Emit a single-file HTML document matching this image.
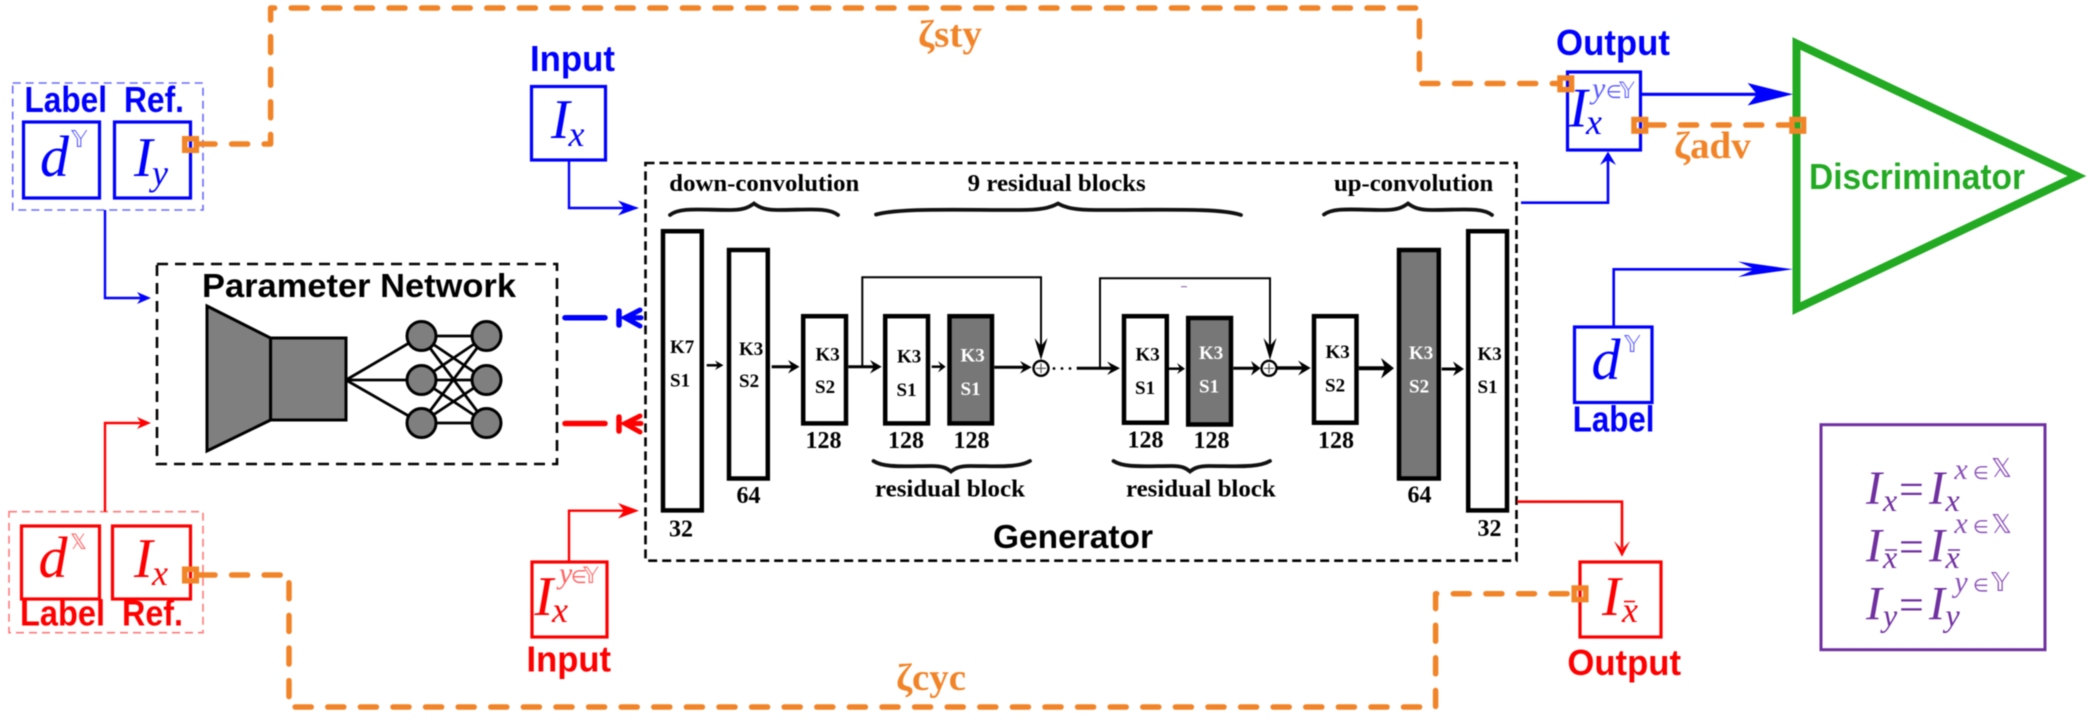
<!DOCTYPE html>
<html><head><meta charset="utf-8"><style>
html,body{margin:0;padding:0;background:#fff}
svg{display:block;filter:blur(0.4px)}
.sans{font-family:"Liberation Sans",sans-serif;font-weight:bold}
.ser{font-family:"Liberation Serif",serif;font-weight:bold}
.it{font-family:"Liberation Serif","DejaVu Sans",serif;font-style:italic}
.bb{font-family:"DejaVu Sans",sans-serif}
.m{font-family:"Liberation Serif","DejaVu Sans",serif}
.k{font-family:"Liberation Serif",serif;font-weight:bold;font-size:19px}
.n{font-family:"Liberation Serif",serif;font-weight:bold;font-size:24px}
.h{font-family:"Liberation Serif",serif;font-weight:bold;font-size:24px}
.brace{fill:none;stroke:#111;stroke-width:3.8;stroke-linecap:round}
.bar{stroke:#000;stroke-width:4.5;fill:#fff}
.gbar{stroke:#000;stroke-width:4.5;fill:#777}
.orange{fill:none;stroke:#F28428;stroke-width:5.5;stroke-linecap:round;stroke-linejoin:round;stroke-dasharray:16 16.6}
.sq{fill:none;stroke:#F28428;stroke-width:5.5}
.ar{stroke:#000;stroke-width:2.5;fill:none}
</style></head><body>
<svg width="2100" height="725" viewBox="0 0 2100 725" xmlns="http://www.w3.org/2000/svg">

<!-- blue group -->
<rect x="12.7" y="83" width="190.3" height="127" fill="none" stroke="#6a6aff" stroke-width="1.6" stroke-dasharray="8 5"/>
<text class="sans" x="24.5" y="112" font-size="36" fill="#0000ff" textLength="82.5" lengthAdjust="spacingAndGlyphs">Label</text>
<text class="sans" x="124" y="112" font-size="36" fill="#0000ff" textLength="60" lengthAdjust="spacingAndGlyphs">Ref.</text>
<rect x="23.5" y="122" width="76" height="76" fill="none" stroke="#0000ff" stroke-width="3.2"/>
<rect x="114.5" y="122" width="76" height="76" fill="none" stroke="#0000ff" stroke-width="3.2"/>
<text class="it" x="40" y="176" font-size="58" fill="#0000ff">d</text>
<text class="bb" x="71" y="147" font-size="23" fill="#5a5aff">𝕐</text>
<text class="it" x="134" y="176" font-size="56" fill="#0000ff">I</text>
<text class="it" x="152" y="185" font-size="36" fill="#0000ff">y</text>

<!-- blue input -->
<text class="sans" x="530" y="71" font-size="36" fill="#0000ff" textLength="85" lengthAdjust="spacingAndGlyphs">Input</text>
<rect x="531.5" y="86.5" width="74" height="73.5" fill="none" stroke="#0000ff" stroke-width="3.2"/>
<text class="it" x="551" y="138" font-size="56" fill="#0000ff">I</text>
<text class="it" x="568.5" y="146" font-size="36" fill="#0000ff">x</text>
<path d="M569 160V208H632" fill="none" stroke="#0000ff" stroke-width="2.4"/>
<polygon points="639,208 618,200.5 624,208 618,215.5" fill="#0000ff"/>
<path d="M105 210V298H145" fill="none" stroke="#0000ff" stroke-width="2.4"/>
<polygon points="151,298 137,292 141,298 137,304" fill="#0000ff"/>

<!-- parameter network -->
<rect x="157" y="264" width="400" height="200" fill="none" stroke="#000" stroke-width="2.6" stroke-dasharray="11 7"/>
<text class="sans" x="202" y="297" font-size="33" fill="#000" textLength="314" lengthAdjust="spacingAndGlyphs">Parameter Network</text>
<g stroke="#000" stroke-width="2.8" fill="none">
<path d="M346 380L421 336M346 380L421 380M346 380L421 423"/>
<path d="M421 336L486 336M421 336L486 380M421 336L486 423M421 380L486 336M421 380L486 380M421 380L486 423M421 423L486 336M421 423L486 380M421 423L486 423"/>
</g>
<polygon points="207,306 270.6,338 270.6,420 207,451" fill="#7f7f7f" stroke="#000" stroke-width="3"/>
<rect x="270.6" y="338" width="75.4" height="82" fill="#7f7f7f" stroke="#000" stroke-width="3"/>
<g fill="#7f7f7f" stroke="#000" stroke-width="3">
<circle cx="421.5" cy="336" r="14.5"/><circle cx="421.5" cy="380" r="14.5"/><circle cx="421.5" cy="423" r="14.5"/>
<circle cx="486.5" cy="336" r="14.5"/><circle cx="486.5" cy="380" r="14.5"/><circle cx="486.5" cy="423" r="14.5"/>
</g>

<!-- short feedback markers -->
<path d="M565 317.7H605" stroke="#0000ff" stroke-width="5.5" stroke-linecap="round"/>
<path d="M619 311V325" stroke="#0000ff" stroke-width="5.5" stroke-linecap="round"/>
<path d="M640 310L625 317.7L640 326M633 317.7H641" fill="none" stroke="#0000ff" stroke-width="5" stroke-linecap="round"/>
<path d="M565 423.5H605" stroke="#ff0000" stroke-width="5.5" stroke-linecap="round"/>
<path d="M619 417V431" stroke="#ff0000" stroke-width="5.5" stroke-linecap="round"/>
<path d="M640 416L625 423.5L640 432M633 423.5H641" fill="none" stroke="#ff0000" stroke-width="5" stroke-linecap="round"/>

<!-- red group -->
<rect x="9" y="511.7" width="194" height="121" fill="none" stroke="#ff7a7a" stroke-width="1.6" stroke-dasharray="8 5"/>
<rect x="21.5" y="526" width="78" height="73" fill="none" stroke="#ff0000" stroke-width="3.2"/>
<rect x="112.5" y="526" width="78" height="73" fill="none" stroke="#ff0000" stroke-width="3.2"/>
<text class="it" x="38.5" y="577" font-size="58" fill="#ff0000">d</text>
<text class="bb" x="70" y="549" font-size="21" fill="#ff6060">𝕏</text>
<text class="it" x="134" y="577" font-size="56" fill="#ff0000">I</text>
<text class="it" x="152" y="585" font-size="36" fill="#ff0000">x</text>
<text class="sans" x="20" y="625.7" font-size="36" fill="#ff0000" textLength="85" lengthAdjust="spacingAndGlyphs">Label</text>
<text class="sans" x="122" y="625.7" font-size="36" fill="#ff0000" textLength="61" lengthAdjust="spacingAndGlyphs">Ref.</text>
<path d="M105 511.7V423H145" fill="none" stroke="#ff0000" stroke-width="2.4"/>
<polygon points="151,423 137,417 141,423 137,429" fill="#ff0000"/>

<!-- red input -->
<rect x="532" y="562" width="75" height="75" fill="none" stroke="#ff0000" stroke-width="3.2"/>
<text class="it" x="534.5" y="615" font-size="56" fill="#ff0000">I</text>
<text class="it" x="552" y="622" font-size="36" fill="#ff0000">x</text>
<text class="it" x="559" y="583" font-size="30" fill="#ff6060">y</text>
<text class="m" x="571" y="583" font-size="18" fill="#ff6060">∈</text>
<text class="bb" x="583" y="583" font-size="22" fill="#ff6060">𝕐</text>
<text class="sans" x="526.5" y="671.7" font-size="36" fill="#ff0000" textLength="84.5" lengthAdjust="spacingAndGlyphs">Input</text>
<path d="M569 561V510.7H632" fill="none" stroke="#ff0000" stroke-width="2.4"/>
<polygon points="639,510.7 618,503 624,510.7 618,518.5" fill="#ff0000"/>

<!-- generator -->
<rect x="645.5" y="163" width="871" height="397.7" fill="none" stroke="#000" stroke-width="2.6" stroke-dasharray="9 5"/>
<text class="h" x="669.3" y="191" textLength="190" lengthAdjust="spacingAndGlyphs">down-convolution</text>
<text class="h" x="967.7" y="191" textLength="178" lengthAdjust="spacingAndGlyphs">9 residual blocks</text>
<text class="h" x="1334" y="191" textLength="159.3" lengthAdjust="spacingAndGlyphs">up-convolution</text>
<text class="h" x="875" y="496.7" textLength="150" lengthAdjust="spacingAndGlyphs">residual block</text>
<text class="h" x="1126" y="496.7" textLength="149.7" lengthAdjust="spacingAndGlyphs">residual block</text>

<path class="brace" d="M670 215C680 207 700 210 730 210C742 210 748 208 754 203.5C760 208 766 210 778 210C808 210 828 207 838 215"/>
<path class="brace" d="M876 214.5C900 208 950 210 1020 210C1040 210 1050 208 1058 203.5C1066 208 1076 210 1096 210C1170 210 1220 208 1241 215"/>
<path class="brace" d="M1324 214.5C1334 207 1354 210 1384 210C1396 210 1402 208 1408 203.5C1414 208 1420 210 1432 210C1462 210 1482 207 1492 215"/>
<path class="brace" d="M873.5 461C884 468 905 466 932 466C942 466 947 468 951 471.5C955 468 960 466 970 466C997 466 1018 468 1030 461"/>
<path class="brace" d="M1113.5 461C1124 468 1145 466 1172 466C1182 466 1186 468 1190 471.5C1194 468 1199 466 1209 466C1236 466 1258 468 1270 461"/>

<rect class="bar" x="663" y="231.2" width="38.8" height="279.2"/>
<rect class="bar" x="729" y="250" width="38.8" height="228.5"/>
<rect class="bar" x="803.2" y="316.2" width="42.8" height="107.2"/>
<rect class="bar" x="885.2" y="316.2" width="42.8" height="107.2"/>
<rect class="gbar" x="949.5" y="316.2" width="42.5" height="107.2"/>
<rect class="bar" x="1124" y="316.2" width="42.8" height="106.5"/>
<rect class="gbar" x="1188.2" y="318" width="42.8" height="106.5"/>
<rect class="bar" x="1314" y="316.2" width="42.5" height="106.5"/>
<rect class="gbar" x="1399" y="250" width="39.8" height="228.5"/>
<rect class="bar" x="1468.2" y="231.2" width="38.8" height="279.2"/>

<g class="k" fill="#000">
<text class="k" x="670" y="353">K7</text><text class="k" x="670" y="386.7">S1</text>
<text class="k" x="739" y="355">K3</text><text class="k" x="739" y="387">S2</text>
<text class="k" x="815.5" y="360.7">K3</text><text class="k" x="815" y="393">S2</text>
<text class="k" x="897" y="362.7">K3</text><text class="k" x="896.5" y="396">S1</text>
<text class="k" x="1135.5" y="360.7">K3</text><text class="k" x="1135" y="394">S1</text>
<text class="k" x="1325.5" y="358">K3</text><text class="k" x="1325" y="391.7">S2</text>
<text class="k" x="1477.5" y="360">K3</text><text class="k" x="1477.5" y="393">S1</text>
</g>
<g fill="#fff">
<text class="k" x="960.5" y="361.7">K3</text><text class="k" x="960.5" y="395">S1</text>
<text class="k" x="1199" y="359">K3</text><text class="k" x="1199" y="392.7">S1</text>
<text class="k" x="1409" y="359">K3</text><text class="k" x="1409" y="392.7">S2</text>
</g>
<g fill="#000">
<text class="n" x="669" y="536.7">32</text>
<text class="n" x="736.5" y="503">64</text>
<text class="n" x="805.5" y="448">128</text>
<text class="n" x="888" y="448">128</text>
<text class="n" x="953.5" y="448">128</text>
<text class="n" x="1127.5" y="447.3">128</text>
<text class="n" x="1193.5" y="448">128</text>
<text class="n" x="1318" y="448">128</text>
<text class="n" x="1407.5" y="502.7">64</text>
<text class="n" x="1477.5" y="536">32</text>
</g>
<text class="sans" x="993" y="548" font-size="33" fill="#000" textLength="160" lengthAdjust="spacingAndGlyphs">Generator</text>

<!-- generator internal arrows -->
<g class="ar">
<path d="M706.7 365.3H720"/>
<path d="M771.7 366.7H795" stroke-width="3"/>
<path d="M848.3 366.7H877" stroke-width="3"/>
<path d="M931.7 366.7H943"/>
<path d="M994.3 367.3H1027" stroke-width="3"/>
<path d="M1076.7 368.3H1116" stroke-width="3"/>
<path d="M1168.3 368.7H1182"/>
<path d="M1233.3 368.3H1257" stroke-width="3"/>
<path d="M1276.7 368H1306" stroke-width="3.5"/>
<path d="M1358.7 368.3H1388" stroke-width="4"/>
<path d="M1441.7 369H1460" stroke-width="3"/>
<path d="M862.3 366.7V277.3H1041V352" stroke-width="2"/>
<path d="M1100 368V278.3H1270V352" stroke-width="2"/>
</g>
<g fill="#000">
<polygon points="723.5,365.3 715,360.5 718,365.3 715,370"/>
<polygon points="799.5,366.7 788,360 792,366.7 788,373.5"/>
<polygon points="881.7,366.7 870,360 874,366.7 870,373.5"/>
<polygon points="945.7,366.7 938,361 941,366.7 938,372.5"/>
<polygon points="1031.7,367.3 1020,361 1024,367.3 1020,373.5"/>
<polygon points="1120,368.3 1107,361.5 1112,368.3 1107,375"/>
<polygon points="1185,368.7 1177,363 1180,368.7 1177,374"/>
<polygon points="1260.7,368.3 1251,361 1254,368.3 1251,375.5"/>
<polygon points="1310.7,368 1298,360.5 1303,368 1298,375.5"/>
<polygon points="1394,368.3 1381,358 1385,368.3 1381,378.5"/>
<polygon points="1464,369 1453,361.5 1456.5,369 1453,376"/>
<polygon points="1041,355 1034.5,333 1041,341 1047.5,333" transform="translate(0,5)"/>
<polygon points="1270,355 1263.5,333 1270,341 1276.5,333" transform="translate(0,5)"/>
</g>
<circle cx="1041" cy="368.3" r="7.5" fill="#fff" stroke="#000" stroke-width="2.4"/>
<path d="M1036 368.3H1046M1041 363.3V373.3" stroke="#555" stroke-width="1.2"/>
<circle cx="1269" cy="368.3" r="7.5" fill="#fff" stroke="#000" stroke-width="2.4"/>
<path d="M1264 368.3H1274M1269 363.3V373.3" stroke="#555" stroke-width="1.2"/>
<g fill="#000"><circle cx="1054" cy="368.5" r="1.4"/><circle cx="1062" cy="368.5" r="1.4"/><circle cx="1070" cy="368.5" r="1.4"/></g>
<path d="M1181 286.7H1187" stroke="#8a5a9a" stroke-width="1"/>

<!-- blue output -->
<text class="sans" x="1556" y="55" font-size="36" fill="#0000ff" textLength="114" lengthAdjust="spacingAndGlyphs">Output</text>
<rect x="1567.5" y="72" width="73" height="78" fill="none" stroke="#0000ff" stroke-width="3.2"/>
<text class="it" x="1569" y="126.7" font-size="56" fill="#0000ff">I</text>
<text class="it" x="1586" y="134" font-size="36" fill="#0000ff">x</text>
<text class="it" x="1592" y="98" font-size="30" fill="#5a5aff">y</text>
<text class="m" x="1606" y="98" font-size="18" fill="#5a5aff">∈</text>
<text class="bb" x="1619" y="98" font-size="22" fill="#5a5aff">𝕐</text>
<path d="M1521 202.7H1608V158" fill="none" stroke="#0000ff" stroke-width="2.6"/>
<polygon points="1608,151.5 1600,165 1608,160 1616,165" fill="#0000ff"/>
<path d="M1641 94.3H1780" stroke="#0000ff" stroke-width="3.2"/>
<polygon points="1793,94.3 1747.6,83 1757,94.3 1747.6,105.5" fill="#0000ff"/>
<path d="M1613.7 326V269.3H1780" fill="none" stroke="#0000ff" stroke-width="2.6"/>
<polygon points="1793,269.3 1738,261.5 1755,269.3 1738,277" fill="#0000ff"/>

<!-- blue label box -->
<rect x="1574.5" y="327" width="77.5" height="75.5" fill="none" stroke="#0000ff" stroke-width="3.2"/>
<text class="it" x="1591.5" y="379" font-size="58" fill="#0000ff">d</text>
<text class="bb" x="1624" y="352" font-size="23" fill="#5a5aff">𝕐</text>
<text class="sans" x="1572.8" y="431.7" font-size="36" fill="#0000ff" textLength="81.7" lengthAdjust="spacingAndGlyphs">Label</text>

<!-- discriminator -->
<polygon points="1796.5,43.5 2077,176 1796.5,308.5" fill="none" stroke="#22AA22" stroke-width="8"/>
<text class="sans" x="1809" y="189" font-size="36" fill="#22AA22" textLength="216" lengthAdjust="spacingAndGlyphs">Discriminator</text>

<!-- red output -->
<path d="M1517 501.7H1622V548" fill="none" stroke="#ff0000" stroke-width="2.6"/>
<polygon points="1622,556.7 1614,541 1622,549 1630,541" fill="#ff0000"/>
<rect x="1580" y="562" width="81" height="75" fill="none" stroke="#ff0000" stroke-width="3.2"/>
<text class="it" x="1602" y="615" font-size="56" fill="#ff0000">I</text>
<text class="it" x="1622" y="622" font-size="36" fill="#ff0000">x</text>
<path d="M1624 601.5H1635" stroke="#ff0000" stroke-width="1.6"/>
<text class="sans" x="1567.4" y="675" font-size="36" fill="#ff0000" textLength="113.6" lengthAdjust="spacingAndGlyphs">Output</text>

<!-- orange loss paths -->
<path class="orange" d="M199 144H270.6V8H1419.4V83.5H1560"/>
<path class="orange" d="M199 575H289V707H1435.6V593.7H1571"/>
<path class="orange" d="M1648 125H1789"/>
<rect class="sq" x="184.7" y="138.7" width="11.6" height="11.6"/>
<rect class="sq" x="184.7" y="569.2" width="11.6" height="11.6"/>
<rect class="sq" x="1560" y="78" width="11.6" height="11.6"/>
<rect class="sq" x="1634" y="119.5" width="11.6" height="11.6"/>
<rect class="sq" x="1792" y="119.5" width="11.6" height="11.6"/>
<rect class="sq" x="1574.2" y="588" width="11.6" height="11.6"/>
<text class="ser" x="918" y="46.7" font-size="38" fill="#F28428" textLength="64" lengthAdjust="spacingAndGlyphs">ζsty</text>
<text class="ser" x="896" y="690" font-size="38" fill="#F28428" textLength="70" lengthAdjust="spacingAndGlyphs">ζcyc</text>
<text class="ser" x="1674" y="158" font-size="38" fill="#F28428" textLength="76.7" lengthAdjust="spacingAndGlyphs">ζadv</text>

<!-- legend -->
<rect x="1821" y="424.7" width="224" height="225" fill="none" stroke="#7030A0" stroke-width="3"/>
<g fill="#7030A0">
<text class="it" x="1866" y="504" font-size="48">I</text><text class="it" x="1883" y="511" font-size="32">x</text>
<text class="m" x="1899" y="504" font-size="44">=</text>
<text class="it" x="1929" y="504" font-size="48">I</text><text class="it" x="1945.5" y="511" font-size="32">x</text>
<text class="it" x="1954.4" y="479" font-size="30" fill="#8a50b8">x</text><text class="m" x="1973" y="479" font-size="18" fill="#8a50b8">∈</text><text class="bb" x="1991" y="477" font-size="26" fill="#8a50b8">𝕏</text>

<text class="it" x="1866" y="561.7" font-size="48">I</text><text class="it" x="1883" y="568" font-size="32">x</text>
<path d="M1885 550H1897M1948 550H1960" stroke="#7030A0" stroke-width="1.6"/>
<text class="m" x="1899" y="561.7" font-size="44">=</text>
<text class="it" x="1929" y="561.7" font-size="48">I</text><text class="it" x="1945.5" y="568" font-size="32">x</text>
<text class="it" x="1954.4" y="533" font-size="30" fill="#8a50b8">x</text><text class="m" x="1973" y="533" font-size="18" fill="#8a50b8">∈</text><text class="bb" x="1991" y="533" font-size="26" fill="#8a50b8">𝕏</text>

<text class="it" x="1866" y="619.3" font-size="48">I</text><text class="it" x="1883" y="626" font-size="32">y</text>
<text class="m" x="1899" y="619.3" font-size="44">=</text>
<text class="it" x="1929" y="619.3" font-size="48">I</text><text class="it" x="1945.5" y="626" font-size="32">y</text>
<text class="it" x="1954.4" y="591.7" font-size="30" fill="#8a50b8">y</text><text class="m" x="1973" y="591.7" font-size="18" fill="#8a50b8">∈</text><text class="bb" x="1991" y="591" font-size="26" fill="#8a50b8">𝕐</text>
</g>
</svg>
</body></html>
